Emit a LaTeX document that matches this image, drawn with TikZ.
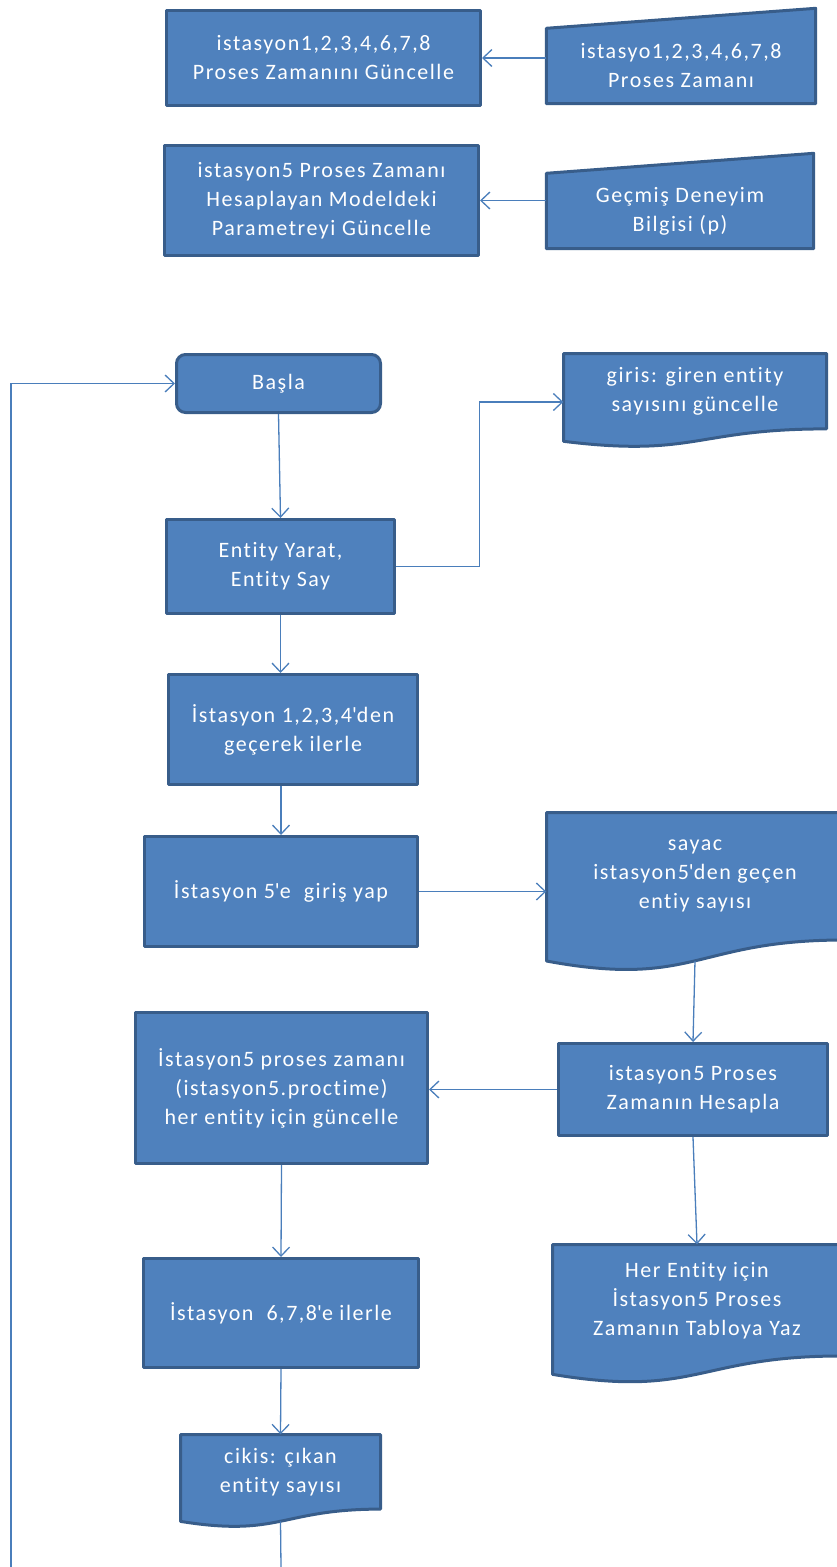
\documentclass[tikz,border=0pt]{standalone}
\usepackage{fontspec}
\setmainfont{Carlito}[LetterSpace=7,Ligatures=NoCommon]
\usetikzlibrary{arrows.meta,calc}
\definecolor{fillc}{HTML}{4F81BD}
\definecolor{bordc}{HTML}{385D8A}
\definecolor{connc}{HTML}{4A7EBB}
\newcommand\aq{\textquotesingle}
\tikzset{
  boxbase/.style={draw=bordc, fill=fillc, line width=3pt, line join=round, text=white, align=center, inner sep=0pt, font=\fontsize{22}{29}\selectfont},
  txt/.style={text=white, align=center, inner sep=0pt, font=\fontsize{22}{29}\selectfont},
  shapebox/.style={draw=bordc, fill=fillc, line width=3pt, line join=round},
  conn/.style={draw=connc, line width=1.3pt, -{Straight Barb[length=9pt,width=17pt,line width=1.3pt]}},
  plainline/.style={draw=connc, line width=1.3pt}
}
\newcommand\docshape[6]{%
  \pgfmathsetmacro\dxr{#2+#4}%
  \pgfmathsetmacro\dxm{#2+0.5*#4}%
  \pgfmathsetmacro\dyr{#3+0.802*#5}%
  \pgfmathsetmacro\dyc{#3+1.107*#5}%
  \pgfmathsetmacro\dyl{#3+0.934*#5}%
  \pgfmathsetmacro\dyb{#3+0.933*#5}%
  \pgfmathsetmacro\dyt{#3+0.401*#5}%
  \pgfmathsetmacro\dht{0.802*#5}%
  \path[shapebox] (#2,#3) -- (\dxr,#3) -- (\dxr,\dyr) .. controls (\dxm,\dyr) and (\dxm,\dyc) .. (#2,\dyl) -- cycle;
  \node[txt, minimum width=#4pt, minimum height=\dht pt] (#1) at (\dxm,\dyt) {#6};
  \coordinate (#1-b) at (\dxm,\dyb);
}
\begin{document}
\begin{tikzpicture}[x=1pt,y=-1pt]
\useasboundingbox (0,0) rectangle (837,1567);
% top section
\node[boxbase, minimum width=314pt, minimum height=95pt] (A) at (323.5,58) {istasyon1,2,3,4,6,7,8\\Proses Zamanını Güncelle};
\node[boxbase, minimum width=314pt, minimum height=110pt] (C) at (321.5,200.5) {istasyon5 Proses Zamanı\\Hesaplayan Modeldeki\\Parametreyi Güncelle};
\node[txt, minimum width=269pt, minimum height=75pt] (B) at (681,66) {};
\path[shapebox] (B.south west) -- (B.south east) -- ([yshift=20pt]B.north east) -- (B.north west) -- cycle;
\node[txt] at (B.center) {istasyo1,2,3,4,6,7,8\\Proses Zamanı};
\node[txt, minimum width=267pt, minimum height=75pt] (D) at (680,211) {};
\path[shapebox] (D.south west) -- (D.south east) -- ([yshift=20pt]D.north east) -- (D.north west) -- cycle;
\node[txt] at (D.center) {Geçmiş Deneyim\\Bilgisi (p)};
\draw[conn] (B.west |- A.east) -- (A.east);
\draw[conn] (D.west |- C.east) -- (C.east);
% main flow
\node[boxbase, rounded corners=9pt, minimum width=204pt, minimum height=58pt] (basla) at (278.5,383.5) {Başla};
\docshape{giris}{563.5}{353.5}{263}{94}{giris: giren entity\\sayısını güncelle}
\node[boxbase, minimum width=228pt, minimum height=94pt] (entity) at (280.5,566.5) {Entity Yarat,\\Entity Say};
\node[boxbase, minimum width=249pt, minimum height=110pt] (ist1234) at (293,729.5) {İstasyon 1,2,3,4\aq den\\geçerek ilerle};
\node[boxbase, minimum width=273pt, minimum height=110pt] (ist5) at (281,891.5) {İstasyon 5\aq e\ \ giriş yap};
\docshape{sayac}{546.5}{812.5}{297}{159}{sayac\\istasyon5\aq den geçen\\entiy sayısı}
\node[boxbase, minimum width=292pt, minimum height=151pt] (ist5p) at (281.5,1088) {İstasyon5 proses zamanı\\(istasyon5.proctime)\\her entity için güncelle};
\node[boxbase, minimum width=269pt, minimum height=92pt] (hesapla) at (693,1089.5) {istasyon5 Proses\\Zamanın Hesapla};
\docshape{her}{552.5}{1244.5}{289}{139}{Her Entity için\\İstasyon5 Proses\\Zamanın Tabloya Yaz}
\node[boxbase, minimum width=275pt, minimum height=109pt] (ist678) at (281,1313) {İstasyon\ \ 6,7,8\aq e ilerle};
\docshape{cikis}{180.5}{1434.5}{200}{93}{cikis: çıkan\\entity sayısı}
% connectors
\coordinate (gj) at (479.5,402);
\coordinate (bot) at (281,1567);
\coordinate (lp) at (11,1567);
\draw[conn] (basla.south) -- (entity.north);
\draw[conn] (entity.east) -| (gj) -- (giris.west |- gj);
\draw[conn] (entity.south) -- (ist1234.north -| entity.south);
\draw[conn] (ist1234.south -| ist5.north) -- (ist5.north);
\draw[conn] (ist5.east) -- (sayac.west |- ist5.east);
\draw[conn] (sayac-b) -- (hesapla.north);
\draw[conn] (hesapla.west) -- (ist5p.east |- hesapla.west);
\draw[conn] (hesapla.south) -- (her.north);
\draw[conn] (ist5p.south) -- (ist678.north);
\draw[conn] (ist678.south) -- (cikis.north);
\draw[plainline] (cikis-b) -- (bot);
\draw[conn] (lp) |- (basla.west);
\end{tikzpicture}
\end{document}
